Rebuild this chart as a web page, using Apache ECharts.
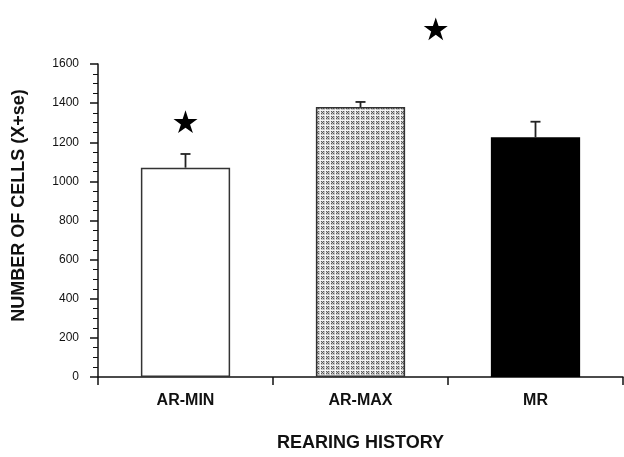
<!DOCTYPE html>
<html>
<head>
<meta charset="utf-8">
<style>
  html, body { margin: 0; padding: 0; background: #fff; overflow: hidden; }
  #chart { width: 624px; height: 457px; }
</style>
<script src="https://cdn.jsdelivr.net/npm/echarts@6/dist/echarts.min.js"></script>
</head>
<body>
<div id="chart"></div>
<script>
// Rearing history groups and cell counts (mean + standard error)
const categories = ['AR-MIN', 'AR-MAX', 'MR'];
const meanCells = [1070, 1380, 1225];
const seCells = [70, 26, 80];
// Significance stars: group index, height on the value axis, sideways shift in bands
const starGroups = [0, 1];
const starValues = [1305, 1780];
const starShifts = [0, 0.43];
const yTicks = { min: 0, max: 1600, interval: 200 };

// Small repeating tile for the stippled AR-MAX bar
function makeStipple() {
  const c = document.createElement('canvas');
  c.width = 5; c.height = 5;
  const g = c.getContext('2d');
  g.fillStyle = '#c4c4c4';
  g.fillRect(0, 0, 5, 5);
  g.fillStyle = '#f4f4f4';
  g.fillRect(0, 0, 5, 1);
  g.fillRect(0, 0, 1, 5);
  g.fillStyle = '#5a5a5a';
  [[2, 2], [1, 1], [3, 3], [1, 3], [3, 1]].forEach(p => g.fillRect(p[0], p[1], 1, 1));
  return c;
}

const barFills = ['#ffffff', { image: makeStipple(), repeat: 'repeat' }, '#000000'];
const barBorders = ['#333333', '#333333', '#000000'];

const STAR = 'M50,0 L61.8,36.2 L100,36.2 L69.1,58.8 L80.9,95.1 L50,72.4 L19.1,95.1 L30.9,58.8 L0,36.2 L38.2,36.2 Z';

const chart = echarts.init(document.getElementById('chart'), null, { renderer: 'canvas' });

chart.setOption({
  animation: false,
  backgroundColor: '#ffffff',
  textStyle: { fontFamily: 'Liberation Sans, Arial, sans-serif' },
  grid: { left: 98, right: 1, top: 64, height: 320, containLabel: false },
  xAxis: {
    type: 'category',
    data: categories,
    boundaryGap: true,
    name: 'REARING HISTORY',
    nameLocation: 'middle',
    nameGap: 57,
    nameTextStyle: { fontSize: 18, fontWeight: 'bold', color: '#111' },
    axisLine: { lineStyle: { color: '#111', width: 1.5 } },
    axisTick: { show: true, length: 8, inside: false, alignWithLabel: false, lineStyle: { color: '#111', width: 1.5 } },
    axisLabel: { fontSize: 16, fontWeight: 'bold', color: '#111', margin: 16 },
    splitLine: { show: false }
  },
  yAxis: {
    type: 'value',
    min: yTicks.min,
    max: yTicks.max,
    interval: yTicks.interval,
    name: 'NUMBER OF CELLS (X+se)',
    nameLocation: 'middle',
    nameGap: 70,
    nameTextStyle: { fontSize: 18, fontWeight: 'bold', color: '#111', padding: [0, 0, 0, 30] },
    axisLine: { show: true, lineStyle: { color: '#111', width: 1.5 } },
    axisTick: { show: true, length: 8, lineStyle: { color: '#111', width: 1.5 } },
    minorTick: { show: true, splitNumber: 4, length: 5, lineStyle: { color: '#111', width: 1 } },
    axisLabel: { fontSize: 12, color: '#111', margin: 19, formatter: v => String(v) },
    splitLine: { show: false }
  },
  series: [
    {
      type: 'bar',
      barWidth: '51%',
      data: meanCells.map((v, i) => ({
        value: v,
        itemStyle: { color: barFills[i], borderColor: barBorders[i], borderWidth: 1.5 }
      })),
      z: 2
    },
    {
      // upper standard-error whiskers
      type: 'custom',
      data: meanCells.map((v, i) => [i, v, seCells[i]]),
      renderItem: function (params, api) {
        const i = api.value(0);
        const base = api.coord([i, api.value(1)]);
        const top = api.coord([i, api.value(1) + api.value(2)]);
        const style = { stroke: '#222', lineWidth: 1.8 };
        return {
          type: 'group',
          children: [
            { type: 'line', shape: { x1: base[0], y1: base[1], x2: top[0], y2: top[1] }, style: style },
            { type: 'line', shape: { x1: top[0] - 5, y1: top[1], x2: top[0] + 5, y2: top[1] }, style: style }
          ]
        };
      },
      z: 3
    },
    {
      // significance stars
      type: 'custom',
      clip: false,
      data: starGroups.map((g, k) => [g, starValues[k], starShifts[k]]),
      renderItem: function (params, api) {
        const p = api.coord([api.value(0), api.value(1)]);
        const band = api.size([1, 0])[0];
        const cx = p[0] + api.value(2) * band;
        const w = 24, h = 23;
        return {
          type: 'path',
          shape: { pathData: STAR, x: cx - w / 2, y: p[1] - h / 2, width: w, height: h },
          style: { fill: '#000' }
        };
      },
      z: 4
    }
  ]
});
</script>
</body>
</html>
